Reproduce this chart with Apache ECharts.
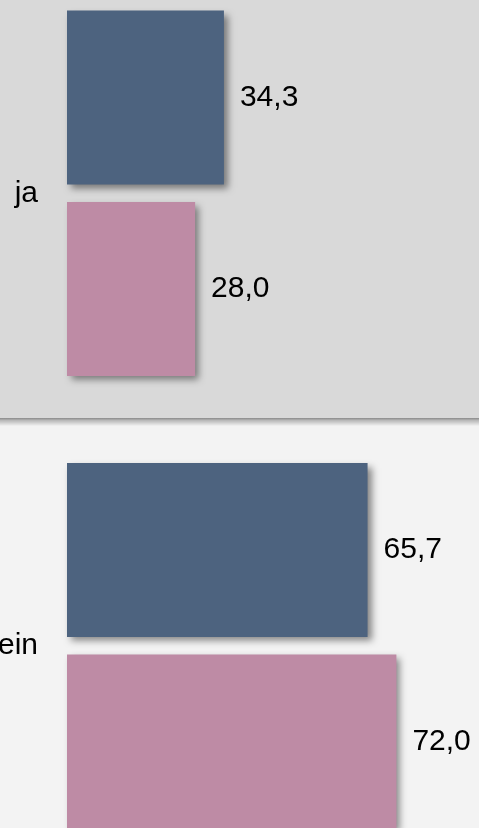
<!DOCTYPE html>
<html>
<head>
<meta charset="utf-8">
<script src="https://cdn.jsdelivr.net/npm/echarts@6/dist/echarts.min.js"></script>
<style>
  html, body { margin: 0; padding: 0; background: #f3f3f3; }
  #chart { width: 479px; height: 828px; }
</style>
</head>
<body>
<div id="chart"></div>
<script>
// Answer categories and percentage shares for the two groups
const categories = ['ja', 'nein'];
const seriesA = [34.3, 65.7];
const seriesB = [28.0, 72.0];
const barColors = ['#4d637f', '#be8ba5'];

const fmt = v => v.toFixed(1).replace('.', ',');

const chart = echarts.init(document.getElementById('chart'), null, { renderer: 'canvas' });

const fontFamily = '"Liberation Sans", Arial, sans-serif';

function barSeries(name, data, color) {
  return {
    name: name,
    type: 'bar',
    data: data,
    barWidth: 174,
    barGap: '10%',
    z: 3,
    itemStyle: {
      color: color,
      shadowColor: 'rgba(0,0,0,0.45)',
      shadowBlur: 7,
      shadowOffsetX: 4,
      shadowOffsetY: 4
    },
    label: {
      show: true,
      position: 'right',
      distance: 16,
      color: '#000',
      fontSize: 30,
      fontFamily: fontFamily,
      formatter: p => fmt(p.value)
    }
  };
}

chart.setOption({
  animation: false,
  grid: {
    left: 67, top: -33, width: 457.5, height: 905,
    containLabel: false,
    outerBoundsMode: 'none'
  },
  xAxis: { type: 'value', min: 0, max: 100, show: false },
  yAxis: {
    type: 'category',
    data: categories,
    inverse: true,
    axisLine: { show: false },
    axisTick: { show: false },
    splitLine: { show: false },
    axisLabel: {
      color: '#000', fontSize: 30, fontFamily: fontFamily, margin: 29,
      padding: [8, 0, 0, 0]
    }
  },
  series: [barSeries('A', seriesA, barColors[0]), barSeries('B', seriesB, barColors[1])]
});

// Category bands: darker band behind the first category, with a shaded divider
const y0 = chart.convertToPixel({ yAxisIndex: 0 }, categories[0]);
const y1 = chart.convertToPixel({ yAxisIndex: 0 }, categories[1]);
const boundary = (y0 + y1) / 2;

chart.setOption({
  graphic: [
    {
      type: 'rect', z: 0, silent: true,
      shape: { x: 0, y: 0, width: 479, height: boundary },
      style: { fill: '#d9d9d9' }
    },
    {
      type: 'rect', z: 1, silent: true,
      shape: { x: 0, y: boundary - 1.5, width: 479, height: 8 },
      style: {
        fill: new echarts.graphic.LinearGradient(0, 0, 0, 1, [
          { offset: 0, color: 'rgba(0,0,0,0.34)' },
          { offset: 0.25, color: 'rgba(0,0,0,0.26)' },
          { offset: 1, color: 'rgba(0,0,0,0)' }
        ])
      }
    }
  ]
});
</script>
</body>
</html>
